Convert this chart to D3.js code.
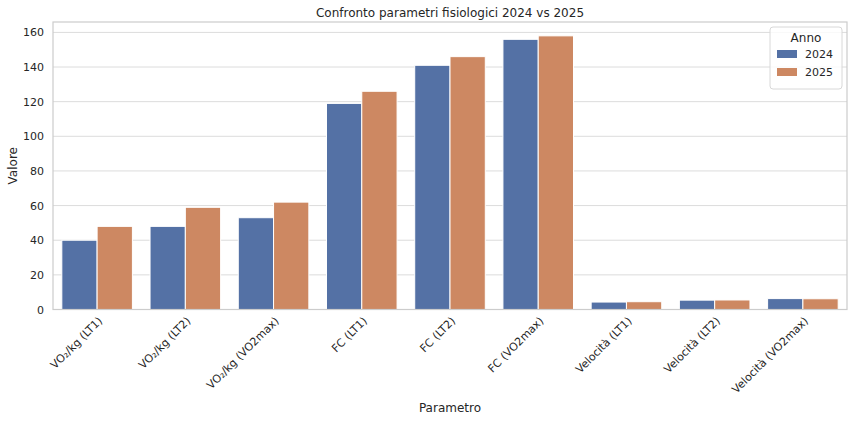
<!DOCTYPE html><html><head><meta charset="utf-8"><script src="https://cdn.jsdelivr.net/npm/d3@7"></script>
<style>body{margin:0;background:#fff}text{font-family:"DejaVu Sans",sans-serif;fill:#262626}</style></head><body><svg width="852" height="422"></svg><script>
const categories=["VO₂/kg (LT1)","VO₂/kg (LT2)","VO₂/kg (VO2max)","FC (LT1)","FC (LT2)","FC (VO2max)","Velocità (LT1)","Velocità (LT2)","Velocità (VO2max)"];
const years=["2024","2025"];
const v2024=[40,48,53,119,141,156,4.3,5.4,6.3];
const v2025=[48,59,62,126,146,158,4.5,5.5,6.2];
const yTicks=[0,20,40,60,80,100,120,140,160];
const colors=["#5471a5","#cd8862"];
const svg=d3.select("svg");
const L=53,R=847,T=22,B=309.5;
const x=d3.scaleBand().domain(categories).range([L,R]).paddingInner(0.2).paddingOuter(0.1);
const xs=d3.scaleBand().domain(years).range([0,x.bandwidth()]);
const y=d3.scaleLinear().domain([0,166]).range([B,T]);
svg.append("g").selectAll("line").data(yTicks).join("line").attr("x1",L).attr("x2",R).attr("y1",d=>y(d)).attr("y2",d=>y(d)).attr("stroke","#dcdcdc");
const series=[v2024,v2025];
series.forEach((s,i)=>{svg.append("g").selectAll("rect").data(categories).join("rect")
 .attr("x",c=>x(c)+xs(years[i])).attr("width",xs.bandwidth()).attr("y",(c,j)=>y(s[j])).attr("height",(c,j)=>B-y(s[j]))
 .attr("fill",colors[i]).attr("stroke","#fff").attr("stroke-width",1);});
svg.append("rect").attr("x",L).attr("y",T).attr("width",R-L).attr("height",B-T).attr("fill","none").attr("stroke","#cccccc").attr("stroke-width",1.2);
svg.append("g").selectAll("text").data(yTicks).join("text").attr("x",L-9).attr("y",d=>y(d)+4).attr("text-anchor","end").attr("font-size",11).text(d=>d);
svg.append("g").selectAll("text").data(categories).join("text").attr("font-size",11).attr("text-anchor","end")
 .attr("transform",c=>`translate(${x(c)+x.bandwidth()/2+6},${B+12}) rotate(-45)`).text(c=>c);
svg.append("text").attr("x",(L+R)/2).attr("y",412).attr("text-anchor","middle").attr("font-size",12).text("Parametro");
svg.append("text").attr("transform",`translate(17,${(T+B)/2}) rotate(-90)`).attr("text-anchor","middle").attr("font-size",12).text("Valore");
svg.append("text").attr("x",(L+R)/2).attr("y",17).attr("text-anchor","middle").attr("font-size",12).text("Confronto parametri fisiologici 2024 vs 2025");
const lg=svg.append("g").attr("transform","translate(770,27)");
lg.append("rect").attr("width",72).attr("height",62).attr("rx",3).attr("fill","#fff").attr("fill-opacity",0.8).attr("stroke","#d8d8d8");
lg.append("text").attr("x",36).attr("y",15).attr("text-anchor","middle").attr("font-size",12).text("Anno");
years.forEach((yr,i)=>{lg.append("rect").attr("x",7).attr("y",23+i*18).attr("width",20).attr("height",8).attr("fill",colors[i]);
 lg.append("text").attr("x",35).attr("y",31+i*18).attr("font-size",11).text(yr);});
</script></body></html>
